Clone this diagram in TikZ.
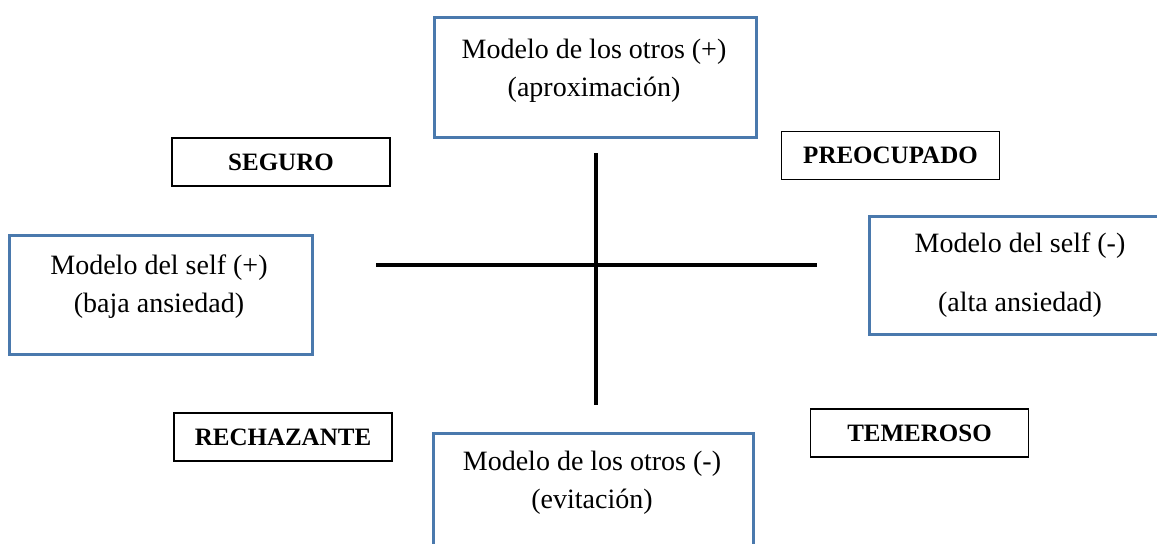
\documentclass[tikz,border=0pt]{standalone}
\usepackage{fontspec}
\setmainfont{Liberation Serif}
\usetikzlibrary{positioning}

\definecolor{boxblue}{HTML}{4A79AD}

\tikzset{
  bluebox/.style={draw=boxblue, line width=1.5pt, anchor=north west, inner sep=0pt},
  tagbox/.style={draw=black, line width=0.8pt, inner sep=0pt, minimum width=109pt, minimum height=24pt, font=\fontsize{12.5}{15}\selectfont\bfseries},
  boxtext/.style={align=center, inner sep=0pt, font=\fontsize{14}{19}\selectfont},
  axis/.style={line width=1.8pt}
}

\begin{document}
\begin{tikzpicture}[x=0.5pt, y=-0.5pt]
\useasboundingbox (0,0) rectangle (1157,543);
\clip (0,0) rectangle (1157,543);

\node[bluebox, minimum width=161pt, minimum height=60pt] (otrosmas) at (433,16) {};
\node[boxtext] (otrosmastxt) at (594,71) {Modelo de los otros (+)\\(aproximación)};

\node[bluebox, minimum width=151.5pt, minimum height=59.5pt] (selfmas) at (8,234) {};
\node[boxtext] (selfmastxt) at (159,287) {Modelo del self (+)\\(baja ansiedad)};

\node[bluebox, minimum width=160pt, minimum height=59pt] (selfmenos) at (868,215) {};
\node[boxtext] (selfmenostxt) at (1020,275) {Modelo del self (-)\\[10.5pt](alta ansiedad)};

\node[bluebox, minimum width=160pt, minimum height=62pt] (otrosmenos) at (432,432) {};
\node[boxtext] (otrosmenostxt) at (592,483) {Modelo de los otros (-)\\(evitación)};

\node[tagbox] (seguro) at (281,162) {SEGURO};
\node[tagbox] (preocupado) at (890.5,155.5) {PREOCUPADO};
\node[tagbox] (rechazante) at (283,437) {RECHAZANTE};
\node[tagbox] (temeroso) at (919.5,433) {TEMEROSO};

\coordinate (W) at (376,265);
\coordinate (E) at (817,265);
\coordinate (N) at (596,153);
\coordinate (S) at (596,405);

\draw[axis] (W)--(E);
\draw[axis] (N)--(S);
\end{tikzpicture}
\end{document}
